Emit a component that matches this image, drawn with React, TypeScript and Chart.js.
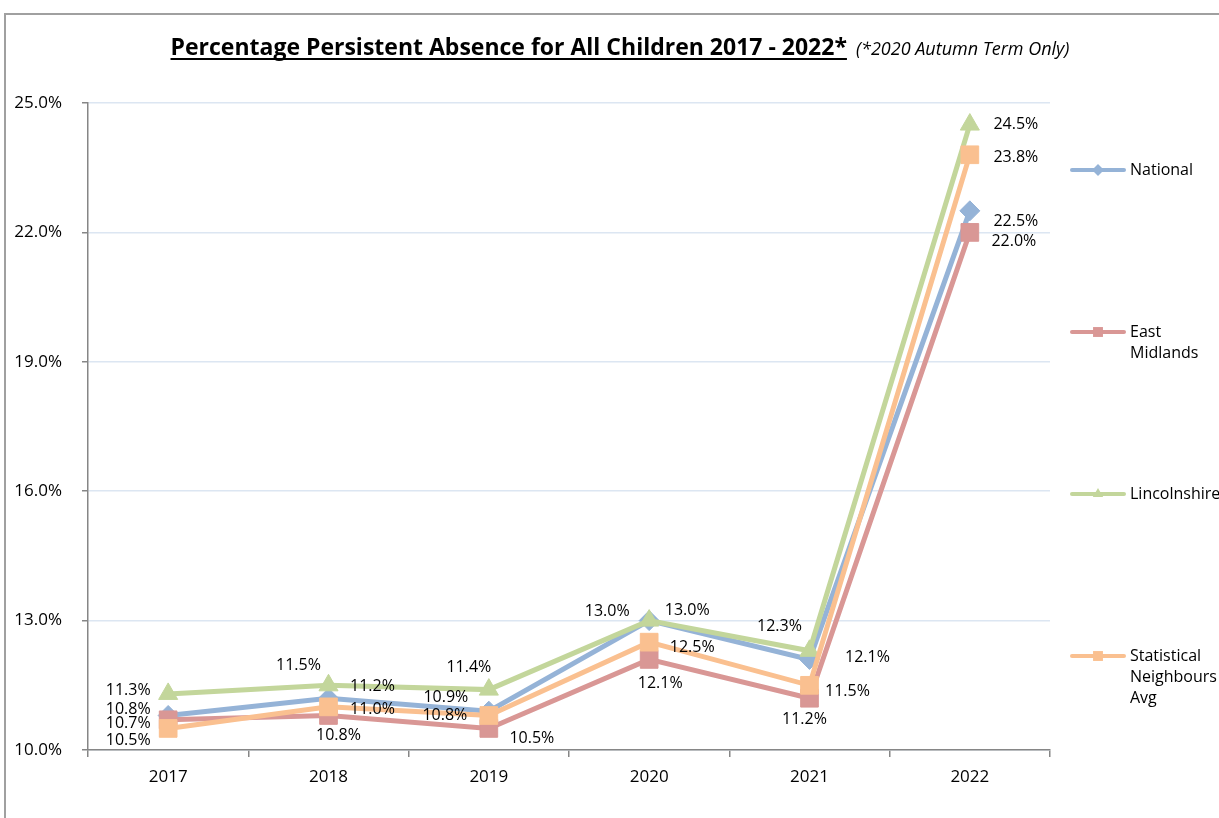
import React, { useEffect, useRef } from "react";
import { Chart, registerables } from "chart.js";

Chart.register(...registerables);

const categories = ["2017", "2018", "2019", "2020", "2021", "2022"];
const nationalValues = [10.8, 11.2, 10.9, 13.0, 12.1, 22.5];
const eastMidlandsValues = [10.7, 10.8, 10.5, 12.1, 11.2, 22.0];
const lincolnshireValues = [11.3, 11.5, 11.4, 13.0, 12.3, 24.5];
const statNeighboursValues = [10.5, 11.0, 10.8, 12.5, 11.5, 23.8];
const yMin = 10;
const yMax = 25;
const yStep = 3;

const titleMain = "Percentage Persistent Absence for All Children 2017 - 2022*";
const titleNote = "(*2020 Autumn Term Only)";

// manual data-label offsets (px) relative to each point
const labelOffsets: number[][][] = [
  [[-40, -6], [44, -12], [-43, -14], [-42, -9], [58, -2], [46, 11]], // National
  [[-40, 4], [10, 20], [43, 10], [11, 24], [-5, 21], [44, 9]], // East Midlands
  [[-40, -3], [-30, -20], [-20, -22], [38, -10], [-30, -24], [46, 0]], // Lincolnshire
  [[-40, 12], [44, 3], [-44, 0], [43, 5], [38, 6], [46, 3]], // Statistical Neighbours
];

const legendLabels = [["National"], ["East", "Midlands"], ["Lincolnshire"], ["Statistical", "Neighbours", "Avg"]];
const legendY = [170, 332, 494, 656];

const FONT = "'Open Sans', 'DejaVu Sans', sans-serif";

const colors = ["#95B3D7", "#D99795", "#C3D69B", "#FAC090"];
const pointStyles = ["rectRot", "rect", "triangle", "rect"];
const pointRadii = [10, 12.5, 11, 12.5];

const framePlugin = {
  id: "frame",
  beforeDraw(chart: any) {
    const ctx = chart.ctx;
    ctx.save();
    ctx.fillStyle = "#ffffff";
    ctx.fillRect(0, 0, chart.width, chart.height);
    ctx.strokeStyle = "#A0A0A0";
    ctx.lineWidth = 2;
    ctx.beginPath();
    ctx.moveTo(5, chart.height);
    ctx.lineTo(5, 14);
    ctx.lineTo(chart.width, 14);
    ctx.stroke();

    // title
    ctx.fillStyle = "#000";
    ctx.textBaseline = "alphabetic";
    ctx.font = `bold 23px ${FONT}`;
    const w1 = ctx.measureText(titleMain).width;
    ctx.font = `italic 18px ${FONT}`;
    const w2 = ctx.measureText(titleNote).width;
    const gap = 9;
    const startX = 620 - (w1 + gap + w2) / 2;
    ctx.font = `bold 23px ${FONT}`;
    ctx.fillText(titleMain, startX, 55);
    ctx.fillRect(startX, 58, w1, 2);
    ctx.font = `italic 18px ${FONT}`;
    ctx.fillText(titleNote, startX + w1 + gap, 55);
    ctx.restore();
  },
};

const labelPlugin = {
  id: "pointLabels",
  afterDatasetsDraw(chart: any) {
    const ctx = chart.ctx;
    ctx.save();
    ctx.font = `16px ${FONT}`;
    ctx.fillStyle = "#000";
    ctx.textAlign = "center";
    ctx.textBaseline = "middle";
    chart.data.datasets.forEach((ds: any, di: number) => {
      const meta = chart.getDatasetMeta(di);
      meta.data.forEach((pt: any, i: number) => {
        const [dx, dy] = labelOffsets[di][i];
        ctx.fillText(Number(ds.data[i]).toFixed(1) + "%", pt.x + dx, pt.y + dy);
      });
    });
    ctx.restore();
  },
};

const legendPlugin = {
  id: "sideLegend",
  afterDraw(chart: any) {
    const ctx = chart.ctx;
    ctx.save();
    chart.data.datasets.forEach((ds: any, di: number) => {
      const y = legendY[di];
      ctx.strokeStyle = colors[di];
      ctx.lineWidth = 4;
      ctx.lineCap = "round";
      ctx.beginPath();
      ctx.moveTo(1072, y);
      ctx.lineTo(1124, y);
      ctx.stroke();
      ctx.fillStyle = colors[di];
      const r = pointStyles[di] === "rect" ? 7 : 6;
      ctx.beginPath();
      if (pointStyles[di] === "rect") {
        ctx.rect(1098 - r * 0.707, y - r * 0.707, r * 1.414, r * 1.414);
      } else if (pointStyles[di] === "triangle") {
        ctx.moveTo(1098, y - r);
        ctx.lineTo(1098 + r * 0.866, y + r * 0.5);
        ctx.lineTo(1098 - r * 0.866, y + r * 0.5);
        ctx.closePath();
      } else {
        ctx.moveTo(1098, y - r);
        ctx.lineTo(1098 + r, y);
        ctx.lineTo(1098, y + r);
        ctx.lineTo(1098 - r, y);
        ctx.closePath();
      }
      ctx.fill();
      ctx.fillStyle = "#000";
      ctx.font = `16px ${FONT}`;
      ctx.textAlign = "left";
      ctx.textBaseline = "middle";
      legendLabels[di].forEach((line, li) => {
        ctx.fillText(line, 1130, y + li * 21);
      });
    });
    ctx.restore();
  },
};

export default function App() {
  const canvasRef = useRef<HTMLCanvasElement | null>(null);

  useEffect(() => {
    if (!canvasRef.current) return;
    const seriesValues = [nationalValues, eastMidlandsValues, lincolnshireValues, statNeighboursValues];
    const chart = new Chart(canvasRef.current, {
      type: "line",
      data: {
        labels: categories,
        datasets: seriesValues.map((vals, i) => ({
          label: legendLabels[i].join(" "),
          data: vals,
          borderColor: colors[i],
          backgroundColor: colors[i],
          pointBackgroundColor: colors[i],
          pointBorderColor: colors[i],
          borderWidth: 5,
          pointStyle: pointStyles[i] as any,
          pointRadius: pointRadii[i],
          pointBorderWidth: 1,
          tension: 0,
          fill: false,
          order: 4 - i,
        })),
      },
      options: {
        responsive: false,
        animation: false,
        layout: { padding: { left: 0, top: 103, right: 169, bottom: 0 } },
        plugins: {
          legend: { display: false },
          title: { display: false },
          tooltip: { enabled: false },
        },
        scales: {
          x: {
            offset: true,
            grid: {
              offset: true,
              drawOnChartArea: false,
              drawTicks: true,
              tickLength: 7,
              color: "#868686",
              lineWidth: 1.5,
            },
            border: { color: "#868686", width: 1.5 },
            ticks: { color: "#000", font: { family: FONT, size: 17 }, padding: 10 },
            afterFit: (s: any) => {
              s.height = 68;
            },
          },
          y: {
            min: yMin,
            max: yMax,
            grid: { color: "#DCE6F2", lineWidth: 1.5, tickLength: 6, tickColor: "#868686" },
            border: { color: "#868686", width: 1.5 },
            ticks: {
              stepSize: yStep,
              color: "#000",
              font: { family: FONT, size: 17 },
              padding: 20,
              callback: (v: any) => Number(v).toFixed(1) + "%",
            },
            afterFit: (s: any) => {
              s.width = 88;
            },
          },
        },
      },
      plugins: [framePlugin, labelPlugin, legendPlugin],
    });
    return () => chart.destroy();
  }, []);

  return (
    <div style={{ position: "absolute", left: 0, top: 0, width: 1219, height: 818 }}>
      <canvas ref={canvasRef} width={1219} height={818} style={{ display: "block" }} />
    </div>
  );
}
